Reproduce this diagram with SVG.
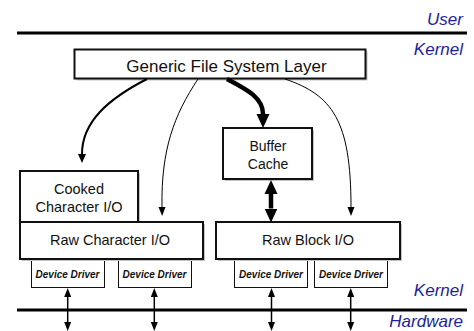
<svg xmlns="http://www.w3.org/2000/svg" width="474" height="331" viewBox="0 0 474 331">
<defs>
<style>
.lbl{font-family:"Liberation Sans",Arial,sans-serif;fill:#111;text-anchor:middle}
.zone{font-family:"Liberation Sans",Arial,sans-serif;font-style:italic;font-size:17px;fill:#1e1e9a;text-anchor:end}
.dd{font-family:"Liberation Sans",Arial,sans-serif;font-style:italic;font-weight:bold;font-size:10px;fill:#111;text-anchor:middle}
.box{fill:#fff;stroke:#111;stroke-width:2}
.shadow{fill:#c4c4c4}
.ddbox{fill:#fff;stroke:#111;stroke-width:1}
.sep{stroke:#000;stroke-width:3}
.conn{fill:none;stroke:#000}
</style>
<marker id="hs" markerUnits="userSpaceOnUse" markerWidth="10" markerHeight="10" viewBox="0 0 10 10" refX="0" refY="5" orient="auto-start-reverse">
<path d="M0,1.5 L9,5 L0,8.5 Z" fill="#000"/>
</marker>
<marker id="hm" markerUnits="userSpaceOnUse" markerWidth="10" markerHeight="10" viewBox="0 0 10 10" refX="0" refY="5" orient="auto">
<path d="M0,1 L9,5 L0,9 Z" fill="#000"/>
</marker>
<marker id="hb" markerUnits="userSpaceOnUse" markerWidth="15" markerHeight="14" viewBox="0 0 15 14" refX="0" refY="7" orient="auto-start-reverse">
<path d="M0,0.5 L14,7 L0,13.5 Z" fill="#000"/>
</marker>
</defs>

<g id="separators">
<line class="sep" x1="17" y1="33" x2="467" y2="33"/>
<line class="sep" x1="17" y1="310" x2="467" y2="310"/>
<text class="zone" x="463" y="25">User</text>
<text class="zone" x="463" y="55">Kernel</text>
<text class="zone" x="463" y="296">Kernel</text>
<text class="zone" x="463" y="327">Hardware</text>
</g>

<g id="generic">
<rect class="shadow" x="76.5" y="51.5" width="291" height="29"/>
<rect class="box" x="74.5" y="49.5" width="291" height="29" stroke-width="1.5"/>
<text class="lbl" x="226.5" y="72" font-size="17">Generic File System Layer</text>
</g>

<g id="buffer-cache">
<rect class="shadow" x="225" y="130" width="89" height="51"/>
<rect class="box" x="223" y="128" width="89" height="51"/>
<text class="lbl" x="268" y="151" font-size="14">Buffer</text>
<text class="lbl" x="268" y="168.5" font-size="14">Cache</text>
</g>

<g id="cooked">
<rect class="shadow" x="22" y="173" width="118" height="51"/>
<rect class="box" x="20" y="171" width="118" height="51"/>
<text class="lbl" x="79" y="194" font-size="14.5">Cooked</text>
<text class="lbl" x="79" y="211.5" font-size="14.5">Character I/O</text>
</g>

<g id="dd1">
<rect class="ddbox" x="31.5" y="258" width="73" height="29.5"/>
<text class="dd" x="67.5" y="277.5">Device Driver</text>
</g>
<g id="dd2">
<rect class="ddbox" x="118.5" y="258" width="73" height="29.5"/>
<text class="dd" x="154.5" y="277.5">Device Driver</text>
</g>
<g id="dd3">
<rect class="ddbox" x="234.5" y="258" width="73" height="29.5"/>
<text class="dd" x="271" y="277.5">Device Driver</text>
</g>
<g id="dd4">
<rect class="ddbox" x="314.5" y="258" width="73" height="29.5"/>
<text class="dd" x="351" y="277.5">Device Driver</text>
</g>

<g id="raw-char">
<rect class="shadow" x="22" y="224" width="183" height="37"/>
<rect class="box" x="20" y="222" width="183" height="37"/>
<text class="lbl" x="110" y="245" font-size="14.5">Raw Character I/O</text>
</g>

<g id="raw-block">
<rect class="shadow" x="218" y="224" width="184" height="37"/>
<rect class="box" x="216" y="222" width="184" height="37"/>
<text class="lbl" x="308" y="245" font-size="14.5">Raw Block I/O</text>
</g>

<g id="connectors">
<path class="conn" stroke-width="2" d="M147,79 C108,99 82,122 82,154" marker-end="url(#hm)"/>
<path class="conn" stroke-width="1" d="M198,79 C174,115 161,150 162,207" marker-end="url(#hs)"/>
<path class="conn" stroke-width="4.5" d="M227,79 C248,90 263,98 263,114" marker-end="url(#hb)"/>
<path class="conn" stroke-width="1" d="M285,79 C332,95 351,120 351,207" marker-end="url(#hs)"/>
<path class="conn" stroke-width="4.5" d="M271,194 L271,208.5" marker-start="url(#hb)" marker-end="url(#hb)"/>
<path class="conn" stroke-width="1.5" d="M67.7,297 L67.7,322" marker-start="url(#hs)" marker-end="url(#hs)"/>
<path class="conn" stroke-width="1.5" d="M154.3,297 L154.3,322" marker-start="url(#hs)" marker-end="url(#hs)"/>
<path class="conn" stroke-width="1.5" d="M271.5,297 L271.5,322" marker-start="url(#hs)" marker-end="url(#hs)"/>
<path class="conn" stroke-width="1.5" d="M350.7,297 L350.7,322" marker-start="url(#hs)" marker-end="url(#hs)"/>
</g>
</svg>
